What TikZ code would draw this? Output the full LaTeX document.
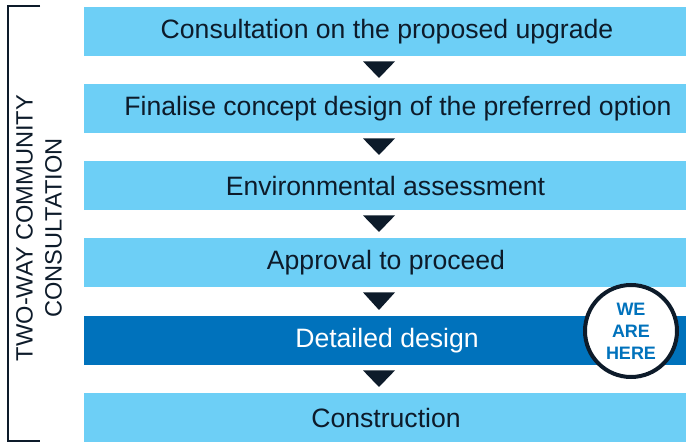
\documentclass[tikz,border=0pt]{standalone}
\usepackage{fontspec}
\setmainfont{Liberation Sans}
\usetikzlibrary{calc}
\definecolor{lightbox}{HTML}{6DCFF6}
\definecolor{darkbox}{HTML}{0072BC}
\definecolor{navy}{HTML}{0D1B2A}
\definecolor{herecol}{HTML}{0072BC}
\tikzset{
  stepbox/.style={draw=none, fill=lightbox, minimum width=602pt, minimum height=49pt, inner sep=0pt, anchor=north west},
  curbox/.style={stepbox, fill=darkbox},
  steptext/.style={font=\fontsize{26.6}{30}\selectfont, text=navy, inner sep=0pt},
  curtext/.style={steptext, text=white},
}
\begin{document}
\begin{tikzpicture}[x=1pt,y=-1pt]
\useasboundingbox (0,0) rectangle (686,443);
% boxes
\node[stepbox] (b1) at (84,7) {};
\node[stepbox] (b2) at (84,84) {};
\node[stepbox] (b3) at (84,161) {};
\node[stepbox] (b4) at (84,238) {};
\node[curbox]  (b5) at (84,316) {};
\node[stepbox] (b6) at (84,393) {};
% texts
\node[steptext] (t1) at (387,32) {Consultation on the proposed upgrade};
\node[steptext] (t2) at (398,109) {Finalise concept design of the preferred option};
\node[steptext] (t3) at (385.5,186) {Environmental assessment};
\node[steptext] (t4) at (386,263) {Approval to proceed};
\node[curtext]  (t5) at (387,341) {Detailed design};
\node[steptext] (t6) at (386,418) {Construction};
% triangles between boxes
\foreach \a/\b in {b1/b2,b2/b3,b3/b4,b4/b5,b5/b6}{
  \path (\a.south west) ++(279,5) coordinate (tl)
        (\a.south west) ++(311,5) coordinate (tr)
        (\b.north west) ++(295,-6) coordinate (tb);
  \fill[navy] (tl) -- (tr) -- (tb) -- cycle;
}
% bracket
\coordinate (bt) at (40,6);
\coordinate (bb) at (40,441);
\draw[navy, line width=2pt] (bt) -- (8,6) -- (8,441) -- (bb);
\node[rotate=90, align=center, font=\fontsize{23.6}{29}\selectfont, text=navy, inner sep=0pt] (side) at (39,228) {TWO-WAY COMMUNITY\\CONSULTATION};
% we are here
\node[circle, draw=navy, line width=4pt, fill=white, minimum size=92pt, inner sep=0pt,
      align=center, font=\bfseries\fontsize{18}{22}\selectfont, text=herecol] (here) at (631,331) {WE\\ARE\\HERE};
\end{tikzpicture}
\end{document}
